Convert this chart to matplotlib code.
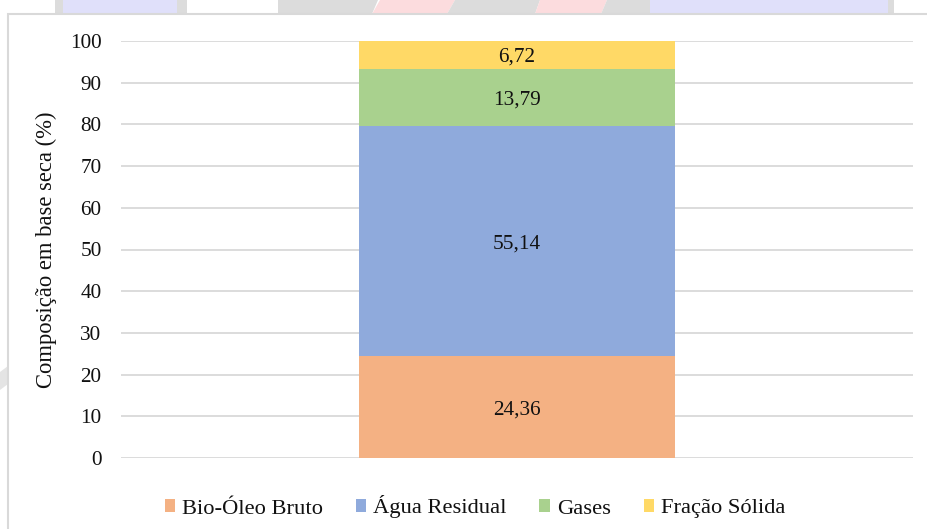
import matplotlib.pyplot as plt
from matplotlib.patches import Rectangle, Polygon

# dry-basis composition of the pyrolysis products (%)
fracoes = ["Bio-Óleo Bruto", "Água Residual", "Gases", "Fração Sólida"]
valores = [24.36, 55.14, 13.79, 6.72]
cores = ["#F4B183", "#8FAADC", "#A9D18E", "#FFD966"]
rotulos = ["24,36", "55,14", "13,79", "6,72"]
yticks = [0, 10, 20, 30, 40, 50, 60, 70, 80, 90, 100]

plt.rcParams['font.family'] = ['Liberation Serif', 'DejaVu Serif']

W, H = 927, 529
fig = plt.figure(figsize=(W / 100, H / 100), dpi=100)

# faint page logo peeking out above the chart box (pixel coords, top-down)
def px_poly(pts, color):
    fig.patches.append(Polygon([(x / W, 1 - y / H) for x, y in pts], closed=True,
                               transform=fig.transFigure, facecolor=color,
                               edgecolor='none', zorder=-3))

px_poly([(55, 0), (187, 0), (187, 14), (55, 14)], "#DCDCDC")
px_poly([(63, 0), (177, 0), (177, 14), (63, 14)], "#E0E0FA")
px_poly([(278, 0), (378, 0), (372, 14), (278, 14)], "#DCDCDC")
px_poly([(380, 0), (455, 0), (447, 14), (372, 14)], "#FCDCDE")
px_poly([(455, 0), (540, 0), (535, 14), (447, 14)], "#DCDCDC")
px_poly([(540, 0), (607, 0), (601, 14), (535, 14)], "#FCDCDE")
px_poly([(607, 0), (650, 0), (650, 14), (601, 14)], "#DCDCDC")
px_poly([(650, 0), (888, 0), (888, 14), (650, 14)], "#E0E0FA")
px_poly([(888, 0), (894, 0), (894, 14), (888, 14)], "#DCDCDC")
px_poly([(0, 372), (8, 366), (8, 384), (0, 390)], "#E4E4E4")

# chart area box
fig.patches.append(Rectangle((8 / W, 1 - 14 / H), 1.2, -1.2, transform=fig.transFigure,
                             facecolor='white', edgecolor='#D9D9D9', linewidth=1.5,
                             zorder=-1))

ax = fig.add_axes([121 / W, 71 / H, 792 / W, 417 / H])
ax.set_facecolor('none')

base = 0
for nome, v, c, r in zip(fracoes, valores, cores, rotulos):
    ax.bar(0, v, width=0.398, bottom=base, color=c, label=nome, zorder=3)
    ax.text(0, base + v / 2, r, ha='center', va='center_baseline', fontsize=15.3,
            color='#111111', zorder=4)
    base += v

ax.set_xlim(-0.5, 0.5)
ax.set_ylim(0, 100)
ax.set_yticks(yticks)
ax.set_yticklabels([str(t) for t in yticks], fontsize=15.3, color='#111111')
ax.set_xticks([])
ax.tick_params(axis='y', length=0, pad=14)
ax.grid(axis='y', color='#D9D9D9', linewidth=1.3, zorder=0)
for s in ax.spines.values():
    s.set_visible(False)

ax.set_ylabel("Composição em base seca (%)", fontsize=16.3, color='#111111')
ax.yaxis.set_label_coords((57 - 121) / 792, 0.5)

fig.legend(loc='center', bbox_to_anchor=(475 / W, 1 - 507 / H), ncol=4, frameon=False,
           fontsize=16.2, handlelength=0.48, handleheight=0.48, handletextpad=0.3,
           columnspacing=1.45, labelcolor='#111111')

fig.savefig("out.png", dpi=100)
